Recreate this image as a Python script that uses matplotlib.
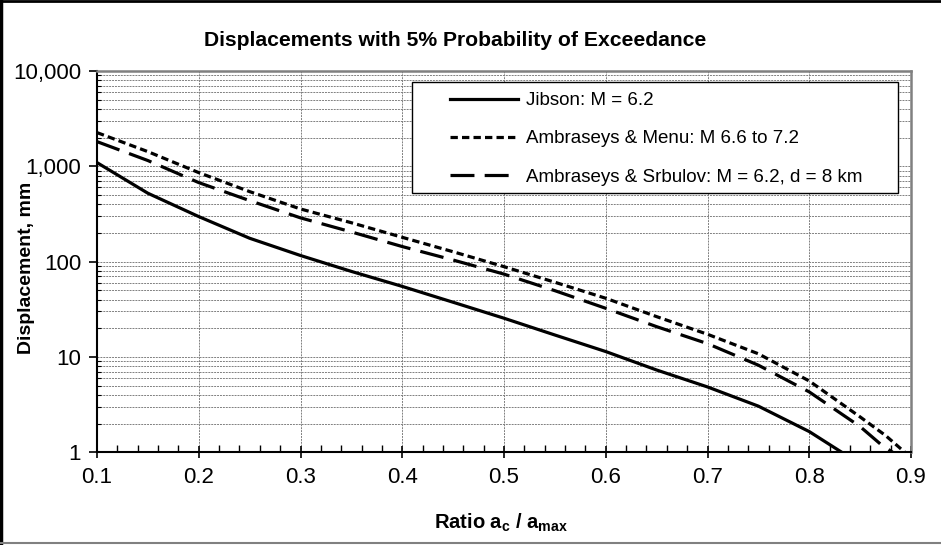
import matplotlib
matplotlib.use("Agg")
import matplotlib.pyplot as plt
from matplotlib.lines import Line2D
from matplotlib.patches import Rectangle
from matplotlib.ticker import FixedLocator, FuncFormatter, LogLocator, NullFormatter

plt.rcParams['font.family'] = ['Liberation Sans', 'DejaVu Sans']
plt.rcParams['mathtext.fontset'] = 'custom'
plt.rcParams['mathtext.rm'] = 'Liberation Sans'
plt.rcParams['mathtext.bf'] = 'Liberation Sans:bold'

# values
ratio = [0.10, 0.15, 0.20, 0.25, 0.30, 0.35, 0.40, 0.45, 0.50, 0.55,
         0.60, 0.65, 0.70, 0.75, 0.80]
jibson = [1094, 522, 297, 176, 116, 79, 55, 37.5, 25.5, 17,
          11.4, 7.3, 4.85, 3.05, 1.65]
jibson_end = (0.832, 1.0)
menu = [2259, 1426, 859, 543, 357, 256, 180, 127, 88.6, 60.8,
        41.3, 26.5, 17.3, 10.8, 5.6]
menu_tail_x = [0.85, 0.875, 0.894]
menu_tail_y = [2.35, 1.5, 1.0]
srbulov = [1816, 1150, 675, 437, 288, 205, 144, 104, 74, 49.6,
           32.4, 20.8, 13.8, 8.2, 4.3]
srbulov_tail_x = [0.85, 0.87, 0.882]
srbulov_tail_y = [1.86, 1.22, 1.0]

labels = ['Jibson: M = 6.2',
          'Ambraseys & Menu: M 6.6 to 7.2',
          'Ambraseys & Srbulov: M = 6.2, d = 8 km']

fig = plt.figure(figsize=(9.41, 5.45), dpi=100)
ax = fig.add_axes([97 / 941, 1 - 452.3 / 545, 814 / 941, 381.3 / 545])

ax.set_yscale('log')
ax.set_xlim(0.1, 0.9)
ax.set_ylim(1, 10000)

grid_kw = dict(color='#808080', lw=0.7, linestyle=(0, (2, 1)))
ax.grid(True, which='major', axis='both', **grid_kw)
ax.grid(True, which='minor', axis='y', **grid_kw)
ax.set_axisbelow(True)

ax.plot(ratio + [jibson_end[0]], jibson + [jibson_end[1]], color='black',
        lw=2.3, label=labels[0])
ax.plot(ratio + menu_tail_x, menu + menu_tail_y, color='black', lw=2.3,
        linestyle=(0, (2.3, 1.3)), label=labels[1])
ax.plot(ratio + srbulov_tail_x, srbulov + srbulov_tail_y, color='black',
        lw=2.3, linestyle=(0, (7.5, 3.2)), label=labels[2])

# ticks
ax.xaxis.set_major_locator(FixedLocator([0.1, 0.2, 0.3, 0.4, 0.5, 0.6, 0.7, 0.8, 0.9]))
ax.xaxis.set_minor_locator(FixedLocator([i / 100 for i in range(10, 91, 2)]))
ax.xaxis.set_major_formatter(FuncFormatter(lambda v, p: f'{v:.1f}'))
ax.yaxis.set_major_locator(LogLocator(base=10, numticks=10))
ax.yaxis.set_minor_locator(LogLocator(base=10, subs=range(2, 10), numticks=20))
ax.yaxis.set_major_formatter(FuncFormatter(lambda v, p: f'{v:,.0f}'))
ax.yaxis.set_minor_formatter(NullFormatter())
ax.tick_params(axis='x', which='major', direction='inout', length=9, width=1.2,
               labelsize=16, pad=6)
ax.tick_params(axis='x', which='minor', direction='in', length=5, width=1.0)
ax.tick_params(axis='y', which='major', direction='out', length=6, width=1.2,
               labelsize=16, pad=5.5)
ax.tick_params(axis='y', which='minor', direction='in', length=3, width=0.8)

for side in ['left', 'bottom']:
    ax.spines[side].set_color('black')
    ax.spines[side].set_linewidth(1.5)
for side in ['top', 'right']:
    ax.spines[side].set_color('#808080')
    ax.spines[side].set_linewidth(1.8)

ax.set_ylabel('Displacement, mm', fontsize=14, fontweight='bold')
ax.yaxis.set_label_coords((35 - 97) / 814, (452.3 - 268) / 381.3)
ax.set_xlabel(r'Ratio a$_\mathbf{c}$ / a$_\mathbf{max}$', fontsize=14.5,
              fontweight='bold')
ax.xaxis.set_label_coords((501 - 97) / 814, (452.3 - 512) / 381.3)

fig.text(455 / 941, 1 - 40 / 545, 'Displacements with 5% Probability of Exceedance',
         ha='center', va='center', fontsize=15.2, fontweight='bold')

# legend box and entries
box_x0 = (412 - 97) / 814
box_x1 = (897.5 - 97) / 814
box_y0 = (452.3 - 193) / 381.3
box_y1 = (452.3 - 82) / 381.3
ax.add_patch(Rectangle((box_x0, box_y0), box_x1 - box_x0, box_y1 - box_y0,
                       transform=ax.transAxes, facecolor='white',
                       edgecolor='black', lw=1.0, zorder=4))
leg = ax.legend(loc='upper left', bbox_to_anchor=((450 - 97) / 814, (452.3 - 92) / 381.3),
                frameon=False, fontsize=13.5, handlelength=3.6, handletextpad=0.45,
                labelspacing=1.13, borderpad=0, borderaxespad=0)
leg.set_zorder(5)

# chart frame
fig.add_artist(Line2D([0.0015, 0.0015], [0, 1], transform=fig.transFigure,
                      color='black', lw=2.5))
fig.add_artist(Line2D([0, 1], [0.998, 0.998], transform=fig.transFigure,
                      color='black', lw=2.0))
fig.add_artist(Line2D([0, 1], [1 - 543 / 545, 1 - 543 / 545], transform=fig.transFigure,
                      color='#808080', lw=1.5))

fig.savefig('out.png', dpi=100)
